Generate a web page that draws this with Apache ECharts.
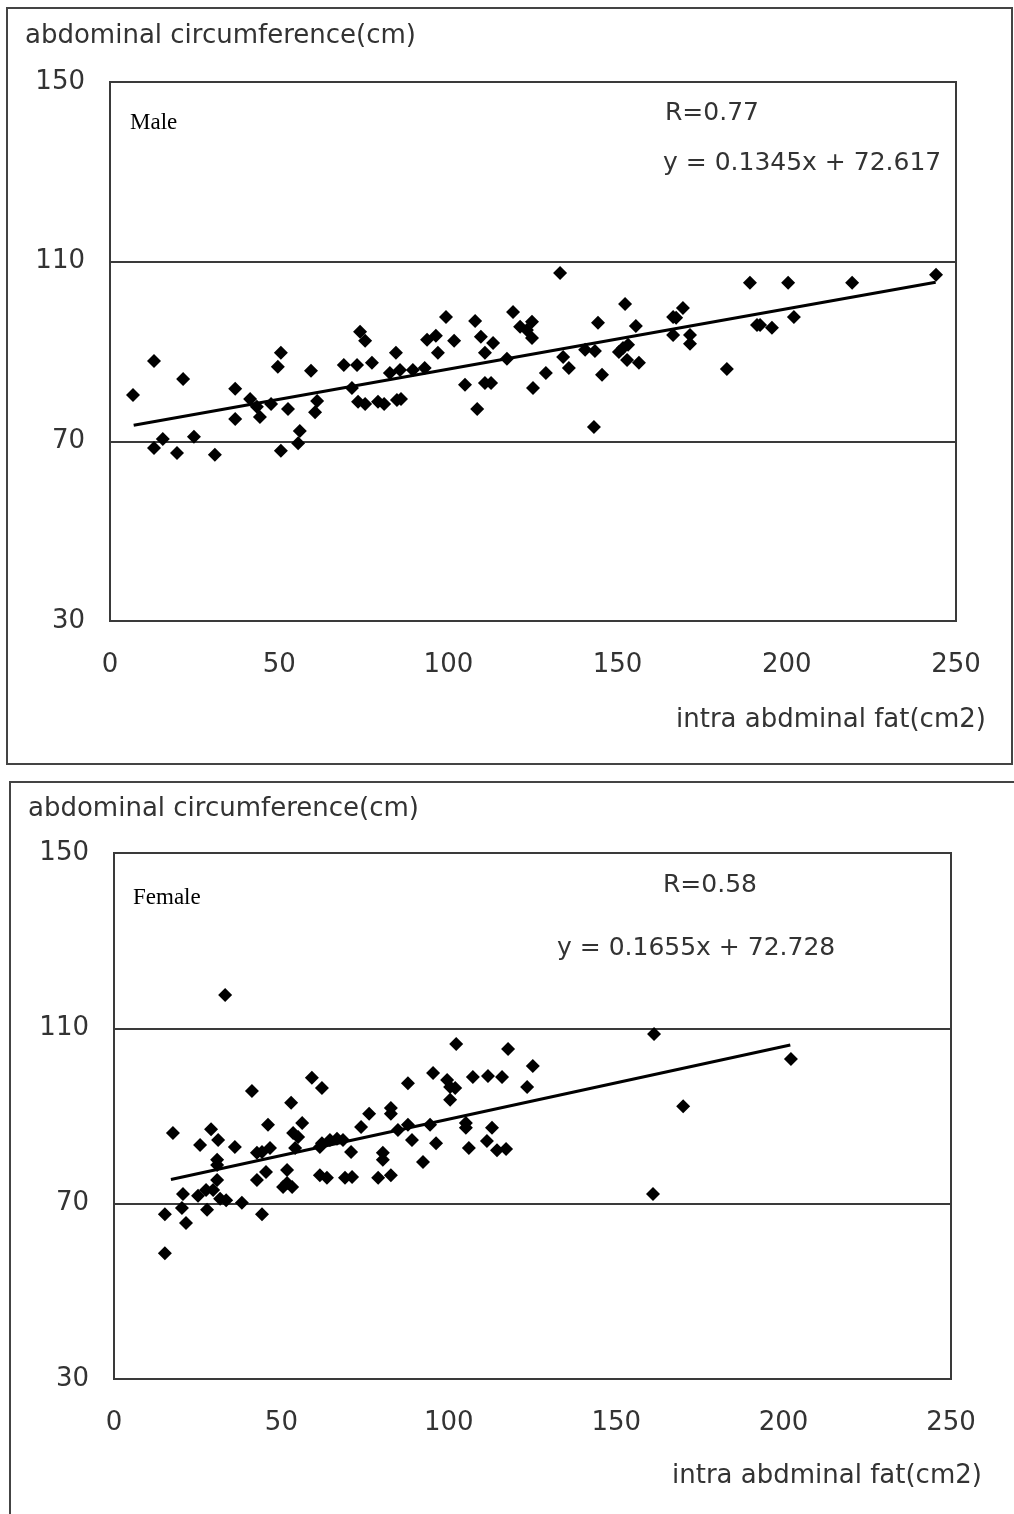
<!DOCTYPE html>
<html>
<head>
<meta charset="utf-8">
<script src="https://cdn.jsdelivr.net/npm/echarts@6/dist/echarts.min.js"></script>
<style>
	html, body { margin: 0; padding: 0; background: #fff; }
	#chart { width: 1014px; height: 1514px; }
</style>
</head>
<body>
<div id="chart"></div>
<script>
// 刻度
var xTicks = [0, 50, 100, 150, 200, 250];
var yTicks = [30, 70, 110, 150];

// 男性 [腹腔内脂肪, 腹囲]
var maleData = [
	[6.8, 80.3], [13, 87.9], [21.6, 83.9], [13, 68.5], [15.6, 70.5], [19.8, 67.4], [24.8, 71], [31, 67],
	[37, 81.7], [37, 75], [41.4, 79.4], [43.4, 77.7], [44.3, 75.4], [47.6, 78.3], [50.5, 89.7], [49.6, 86.6],
	[52.6, 77.2], [50.5, 67.9], [56.1, 72.3], [55.6, 69.6], [59.4, 85.7], [61.2, 79], [60.6, 76.5],
	[69.1, 87], [73, 87], [77.4, 87.5], [73.9, 94.4], [75.4, 92.4], [71.5, 81.9], [73.3, 78.8], [75.4, 78.3],
	[79.2, 78.8], [81, 78.3], [84.5, 89.7], [82.7, 85.2], [84.8, 79.2], [86, 79.4], [85.7, 85.9], [89.5, 85.9],
	[93, 86.3], [99.3, 97.7], [93.7, 92.6], [96.3, 93.5], [101.7, 92.4], [96.9, 89.7], [107.9, 96.8],
	[109.6, 93.3], [113.2, 91.9], [110.8, 89.7], [117.3, 88.4], [104.9, 82.6], [110.8, 83], [112.6, 83],
	[108.5, 77.2], [119.1, 98.8], [121.2, 95.5], [124.7, 96.6], [123.2, 94.8], [124.7, 93], [128.8, 85.2],
	[125, 81.9], [133, 107.5], [133.9, 88.8], [135.6, 86.3], [140.4, 90.4], [143.3, 90.1], [144.2, 96.4],
	[145.4, 84.8], [143, 73.2], [152.2, 100.6], [155.4, 95.7], [150.4, 89.9], [151.6, 90.8], [153.1, 91.5],
	[152.8, 88.1], [156.3, 87.5], [166.4, 97.7], [166.4, 93.7], [169.3, 99.7], [167.3, 97.5], [171.4, 93.7],
	[171.4, 91.7], [182.3, 86.1], [189.1, 105.3], [191.2, 95.9], [192.1, 95.9], [195.6, 95.3], [200.4, 105.3],
	[202.1, 97.7], [219.3, 105.3], [244.1, 107.1]
];
var maleTrend = [[7, 73.6], [244, 105.4]];

// 女性 [腹腔内脂肪, 腹囲]
var femaleData = [
	[33.2, 117.6], [17.6, 86.1], [15.2, 67.6], [15.2, 58.7], [21.5, 65.6], [20.3, 69], [20.6, 72.2], [25.1, 71.8],
	[27.8, 68.6], [27.5, 73.1], [29.6, 73.1], [25.7, 83.4], [29, 87], [31.1, 84.5], [30.8, 80], [30.8, 78.8],
	[30.8, 75.4], [31.7, 71.1], [33.5, 70.8], [36.1, 82.9], [38.2, 70.2], [41.2, 95.7], [42.7, 81.6],
	[44.2, 81.8], [42.7, 75.4], [45.4, 77.2], [44.2, 67.6], [46, 88], [46.6, 82.7], [52.9, 93], [51.7, 77.7],
	[51.7, 74.7], [50.5, 73.8], [53.2, 73.8], [53.5, 86.1], [55, 85.2], [56.2, 88.4], [54.1, 82.7], [59.1, 98.7],
	[62.1, 96.4], [61.5, 82.9], [62.1, 83.8], [64.5, 84.5], [66.6, 84.8], [68.4, 84.5], [61.5, 76.5],
	[63.6, 75.9], [70.8, 81.8], [69, 75.9], [71.1, 76.1], [73.8, 87.5], [76.2, 90.5], [78.9, 75.9], [80.3, 81.6],
	[80.3, 80], [82.7, 91.8], [82.7, 90.5], [82.7, 76.5], [84.8, 86.8], [87.8, 97.5], [87.8, 88], [89, 84.5],
	[92.3, 79.5], [96.2, 83.8], [94.4, 88], [95.3, 99.8], [99.5, 98.2], [100.4, 96.6], [101.9, 96.4],
	[100.4, 93.7], [102.2, 106.4], [105.1, 88.4], [105.1, 87.3], [106, 82.7], [107.2, 98.9], [111.7, 99.1],
	[115.9, 98.9], [112.9, 87.3], [111.4, 84.3], [114.4, 82.2], [117.1, 82.5], [117.7, 105.3], [123.4, 96.6],
	[125.1, 101.4], [161.3, 108.7], [161, 72.2], [170, 92.2], [202.2, 103]
];
var femaleTrend = [[17, 75.5], [202, 106.2]];

var
/* 共通スタイル */
Style = {
	font: 'DejaVu Sans, sans-serif',
	text: '#333',
	line: '#3a3a3a'
},

xAxisOf = function(idx) {
	return {
		gridIndex: idx,
		type: 'value',
		min: xTicks[0],
		max: xTicks[xTicks.length - 1],
		interval: 50,
		axisLine: { onZero: false, lineStyle: { color: Style.line, width: 2 } },
		axisTick: { show: false },
		splitLine: { show: false },
		axisLabel: { margin: 31, color: Style.text, fontSize: 26, fontFamily: Style.font }
	};
},

yAxisOf = function(idx) {
	return {
		gridIndex: idx,
		type: 'value',
		min: yTicks[0],
		max: yTicks[yTicks.length - 1],
		interval: 40,
		axisLine: { onZero: false, lineStyle: { color: Style.line, width: 2 } },
		axisTick: { show: false },
		splitLine: { show: true, lineStyle: { color: Style.line, width: 2 } },
		axisLabel: { margin: 25, color: Style.text, fontSize: 26, fontFamily: Style.font }
	};
},

textOf = function(str, x, y, size, family, color) {
	return {
		type: 'text',
		left: x,
		top: y,
		style: { text: str, fill: color || Style.text, fontSize: size, fontFamily: family || Style.font }
	};
},

scatterOf = function(idx, data) {
	return {
		type: 'scatter',
		xAxisIndex: idx,
		yAxisIndex: idx,
		symbol: 'diamond',
		symbolSize: 14,
		itemStyle: { color: '#000', opacity: 1 },
		data: data
	};
},

trendOf = function(idx, data) {
	return {
		type: 'line',
		xAxisIndex: idx,
		yAxisIndex: idx,
		symbol: 'none',
		lineStyle: { color: '#000', width: 3 },
		data: data
	};
};

var chart = echarts.init(document.getElementById('chart'));
chart.setOption({
	backgroundColor: '#fff',
	animation: false,
	grid: [
		{ left: 110, top: 82, width: 846, height: 539, show: true, borderColor: Style.line, borderWidth: 2 },
		{ left: 114, top: 853, width: 837, height: 526, show: true, borderColor: Style.line, borderWidth: 2 }
	],
	xAxis: [xAxisOf(0), xAxisOf(1)],
	yAxis: [yAxisOf(0), yAxisOf(1)],
	graphic: [
		// 外枠
		{ type: 'rect', shape: { x: 7, y: 8, width: 1005, height: 756 }, style: { fill: 'none', stroke: '#444', lineWidth: 2 } },
		{ type: 'rect', shape: { x: 10, y: 782, width: 1010, height: 740 }, style: { fill: 'none', stroke: '#444', lineWidth: 2 } },
		// 上のグラフ
		textOf('abdominal circumference(cm)', 25, 23, 26),
		textOf('Male', 130, 111, 23, 'Liberation Serif, serif', '#000'),
		textOf('R=0.77', 665, 101, 25),
		textOf('y = 0.1345x + 72.617', 663, 151, 25),
		textOf('intra abdminal fat(cm2)', 676, 707, 26),
		// 下のグラフ
		textOf('abdominal circumference(cm)', 28, 796, 26),
		textOf('Female', 133, 886, 23, 'Liberation Serif, serif', '#000'),
		textOf('R=0.58', 663, 873, 25),
		textOf('y = 0.1655x + 72.728', 557, 936, 25),
		textOf('intra abdminal fat(cm2)', 672, 1463, 26)
	],
	series: [
		scatterOf(0, maleData),
		trendOf(0, maleTrend),
		scatterOf(1, femaleData),
		trendOf(1, femaleTrend)
	]
});
</script>
</body>
</html>
